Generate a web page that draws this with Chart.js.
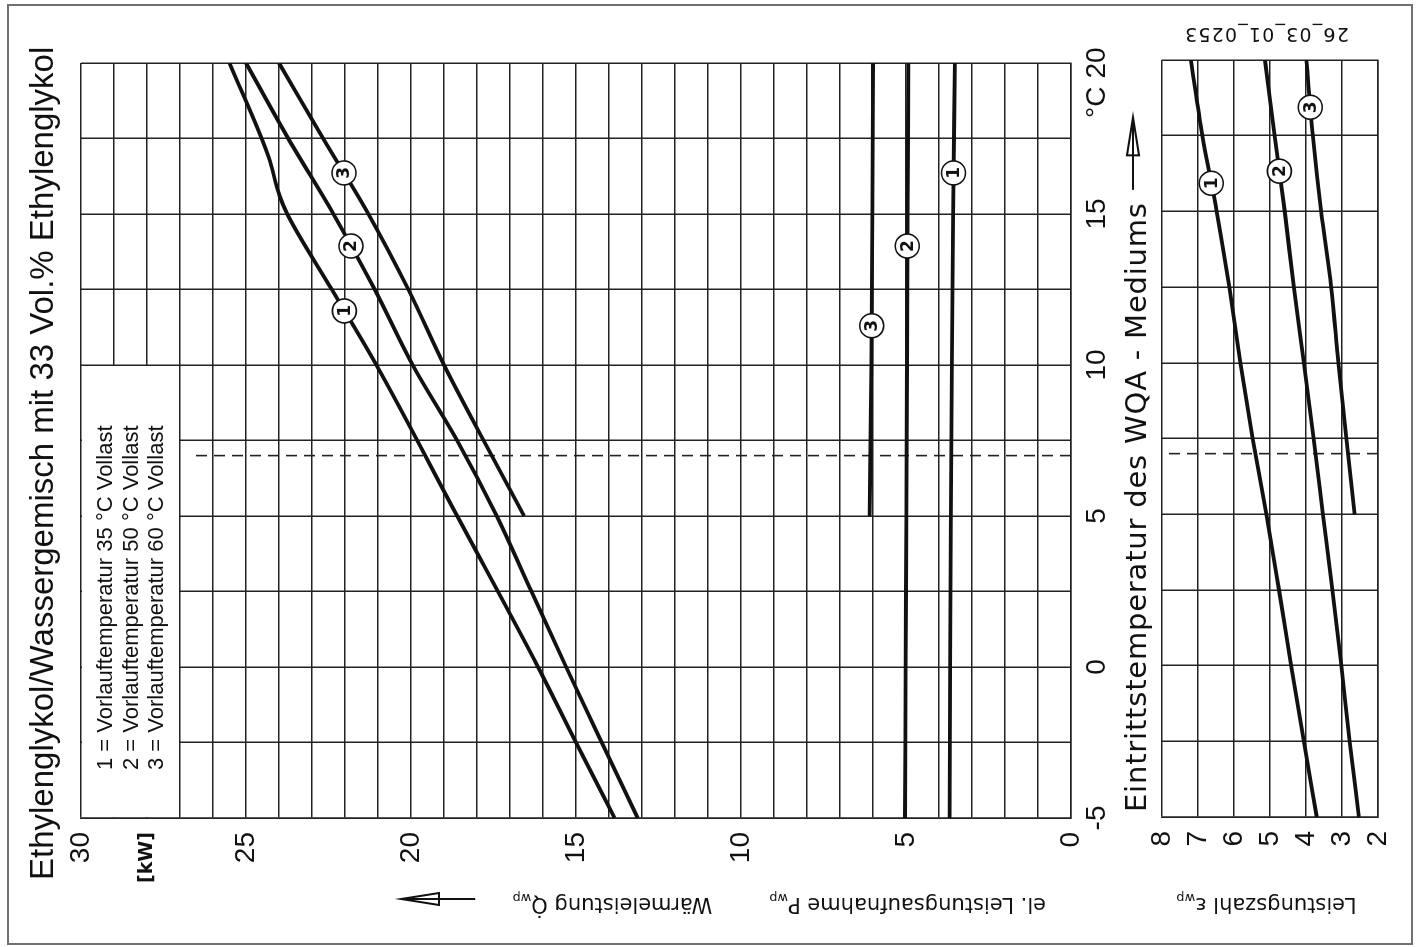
<!DOCTYPE html>
<html><head><meta charset="utf-8">
<script src="https://cdn.jsdelivr.net/npm/chart.js@4.4.0/dist/chart.umd.min.js"></script>
<style>
html,body{margin:0;padding:0;background:#fff;width:1419px;height:947px;overflow:hidden;}
#frame{position:absolute;left:7px;top:4px;width:1402px;height:937px;border:2px solid #707070;}
#rot{position:absolute;left:0;top:0;width:947px;height:1419px;transform-origin:0 0;transform:translateY(947px) rotate(-90deg);}
#cA{position:absolute;left:0;top:0;}
#cB{position:absolute;left:0;top:1120px;}
</style></head>
<body>
<div id="frame"></div>
<div id="rot">
<canvas id="cA" width="947" height="1160"></canvas>
<canvas id="cB" width="947" height="299"></canvas>
</div>
<script>
// ---------------- data ----------------
const chartTitle = 'Ethylenglykol/Wassergemisch mit 33 Vol.% Ethylenglykol';
const xTitle = 'Eintrittstemperatur des WQA - Mediums';
const legendLines = ['1 = Vorlauftemperatur 35 °C Vollast', '2 = Vorlauftemperatur 50 °C Vollast', '3 = Vorlauftemperatur 60 °C Vollast'];
const docCode = '26_03_01_0253';

// heating capacity [kW]
const heat1T = [-5, -2.5, 0, 5, 10, 12.5, 15, 15.6, 16.9, 20];
const heat1  = [13.83, 15.0, 16.15, 18.6, 21.05, 22.4, 23.75, 23.98, 24.32, 25.5];
const heat2T = [-5, -2.5, 0, 2.5, 5, 7.5, 10, 12.5, 15, 17.5, 20];
const heat2  = [13.13, 14.22, 15.3, 16.35, 17.4, 18.6, 19.95, 21.1, 22.35, 23.72, 25.0];
const heat3T = [5, 7.5, 10, 12.5, 15, 17.5, 20];
const heat3  = [16.57, 17.8, 19.0, 20.08, 21.29, 22.66, 24.0];
// electrical power input [kW]
const pow1T = [-5, 0, 5, 10, 15, 20];
const pow1  = [3.68, 3.66, 3.64, 3.61, 3.57, 3.52];
const pow2T = [-5, 0, 5, 10, 15, 20];
const pow2  = [5.03, 5.01, 4.99, 4.97, 4.95, 4.93];
const pow3T = [5, 10, 15, 20];
const pow3  = [6.1, 6.05, 6.02, 6.0];
// COP
const cop1T = [-5, -2.5, 0, 2.5, 5, 7.5, 10, 12.5, 15, 17.5, 20];
const cop1  = [3.7, 4.06, 4.41, 4.75, 5.1, 5.48, 5.82, 6.13, 6.48, 6.88, 7.2];
const cop2T = [-5, -2.5, 0, 2.5, 5, 7.5, 10, 12.5, 15, 17.5, 20];
const cop2  = [2.53, 2.79, 3.02, 3.27, 3.53, 3.79, 4.06, 4.34, 4.59, 4.87, 5.14];
const cop3T = [5, 7.5, 10, 12.5, 15, 17.5, 20];
const cop3  = [2.65, 2.88, 3.1, 3.3, 3.58, 3.81, 3.99];
// circled curve numbers
const markMainT = [16.36, 13.94, 11.79, 11.3, 13.94, 16.36];
const markMainV = [22.03, 21.82, 22.02, 6.04, 4.96, 3.56];
const markMainL = ['3', '2', '1', '3', '2', '1'];
const markCopT = [15.93, 16.33, 18.44];
const markCopV = [6.63, 4.74, 3.88];
const markCopL = ['1', '2', '3'];
// reference temperature (dashed) and legend area
const refTemp = 7;
const refKwTop = 26.6;
const legendBoxT = [-5, 10];
const legendBoxKw = [27, 30];
const kwUnitTick = 28;

// ---------------- helpers ----------------
const F_TICK = '"Liberation Sans", Arial, sans-serif';
const F_DIN = '"DejaVu Sans", sans-serif';
const INK = '#111';
const GRID = '#222';

function xy(ts, vs) { return ts.map((t, i) => ({x: t, y: vs[i]})); }

function rotText(ctx, parts, cx, cy, align, spacing) {
  ctx.save(); ctx.translate(cx, cy); ctx.rotate(-Math.PI / 2);
  if (spacing) ctx.letterSpacing = spacing + 'px';
  let total = 0;
  parts.forEach(p => { ctx.font = p.font; p.w = ctx.measureText(p.t).width; total += p.w; });
  let x = align === 'center' ? -total / 2 : 0;
  ctx.textBaseline = 'alphabetic'; ctx.textAlign = 'left'; ctx.fillStyle = INK;
  parts.forEach(p => { ctx.font = p.font; ctx.fillText(p.t, x, p.dy || 0); x += p.w; });
  ctx.restore();
}

function drawArrow(ctx, x1, y1, x2, y2) {
  const ang = Math.atan2(y2 - y1, x2 - x1);
  const len = Math.hypot(x2 - x1, y2 - y1);
  ctx.save(); ctx.translate(x2, y2); ctx.rotate(ang);
  ctx.strokeStyle = INK; ctx.lineWidth = 2;
  ctx.beginPath(); ctx.moveTo(-len, 0); ctx.lineTo(0, 0); ctx.stroke();
  ctx.beginPath(); ctx.moveTo(0, 0); ctx.lineTo(-38, -6); ctx.lineTo(-38, 6); ctx.closePath(); ctx.stroke();
  ctx.restore();
}

const markLabels = {
  id: 'markLabels',
  afterDatasetsDraw(chart) {
    const ctx = chart.ctx;
    chart.data.datasets.forEach((ds, i) => {
      if (!ds.marks) return;
      const meta = chart.getDatasetMeta(i);
      ctx.save();
      ctx.font = 'bold 17px ' + F_DIN; ctx.fillStyle = INK;
      ctx.textAlign = 'center'; ctx.textBaseline = 'middle';
      meta.data.forEach((el, j) => ctx.fillText(ds.marks[j], el.x, el.y + 1));
      ctx.restore();
    });
  }
};

const lineStyle = {borderColor: INK, borderWidth: 3.8, pointRadius: 0, fill: false, cubicInterpolationMode: 'monotone', order: 1};
const markStyle = {showLine: false, pointRadius: 12, pointBackgroundColor: '#fff', pointBorderColor: INK, pointBorderWidth: 1.6, order: 0};
const dashStyle = {borderColor: GRID, borderWidth: 1.6, borderDash: [11, 7], pointRadius: 0, fill: false, order: 2};

function gridOpts() { return {color: GRID, lineWidth: 1.5, drawTicks: false}; }
function borderOpts() { return {color: GRID, width: 1.5}; }

// ---------------- main chart ----------------
const annoA = {
  id: 'annoA',
  beforeDatasetsDraw(chart) {
    const ctx = chart.ctx, xs = chart.scales.x, ys = chart.scales.y, ca = chart.chartArea;
    const l = xs.getPixelForValue(legendBoxT[0]) + 1, r = xs.getPixelForValue(legendBoxT[1]) - 1;
    const t = ys.getPixelForValue(legendBoxKw[1]) + 1, b = ys.getPixelForValue(legendBoxKw[0]) - 1;
    ctx.save();
    ctx.fillStyle = '#fff'; ctx.fillRect(l, t, r - l, b - t);
    ctx.fillStyle = INK; ctx.font = '22px ' + F_TICK; ctx.textAlign = 'left'; ctx.textBaseline = 'alphabetic';
    legendLines.forEach((s, i) => ctx.fillText(s, ca.left + 48, ca.top + 31 + i * 25.5));
    ctx.restore();
  },
  afterDraw(chart) {
    const ctx = chart.ctx, xs = chart.scales.x, ys = chart.scales.y, ca = chart.chartArea;
    ctx.save();
    ctx.fillStyle = INK;
    // main title
    ctx.font = '33px ' + F_TICK; ctx.textAlign = 'left'; ctx.textBaseline = 'alphabetic';
    ctx.fillText(chartTitle, 67, 53);
    // x axis title + arrow
    ctx.save();
    ctx.font = '29px ' + F_DIN; ctx.letterSpacing = '0.8px';
    ctx.fillText(xTitle, ca.left + 6, 1146);
    ctx.restore();
    drawArrow(ctx, xs.getPixelForValue(15.8), 1133, xs.getPixelForValue(18.2), 1133);
    // unit °C
    ctx.font = '28px ' + F_TICK; ctx.textAlign = 'center'; ctx.textBaseline = 'middle';
    ctx.fillText('°C', xs.getPixelForValue(18.7), xs.top + 9 + 16.8);
    // y titles
    const big = '21px ' + F_DIN, small = '13px ' + F_DIN;
    rotText(ctx, [{t: 'Wärmeleistung Q\u0307', font: big}, {t: 'wp', font: small, dy: 4}], 49, ys.getPixelForValue(13.9), 'center');
    rotText(ctx, [{t: 'el. Leistungsaufnahme P', font: big}, {t: 'wp', font: small, dy: 4}], 49, ys.getPixelForValue(4.95), 'center');
    drawArrow(ctx, 48, ys.getPixelForValue(18.05), 48, ys.getPixelForValue(20.3));
    ctx.restore();
  }
};

new Chart(document.getElementById('cA'), {
  type: 'line',
  data: {datasets: [
    Object.assign({data: xy(markMainT, markMainV), marks: markMainL}, markStyle),
    Object.assign({data: xy(heat1T, heat1)}, lineStyle),
    Object.assign({data: xy(heat2T, heat2)}, lineStyle),
    Object.assign({data: xy(heat3T, heat3)}, lineStyle),
    Object.assign({data: xy(pow1T, pow1)}, lineStyle),
    Object.assign({data: xy(pow2T, pow2)}, lineStyle),
    Object.assign({data: xy(pow3T, pow3)}, lineStyle),
    Object.assign({data: [{x: refTemp, y: 0}, {x: refTemp, y: refKwTop}]}, dashStyle)
  ]},
  options: {
    responsive: false, animation: false, events: [],
    layout: {padding: {top: 81, right: 63, left: 0, bottom: 0}},
    plugins: {legend: {display: false}, tooltip: {enabled: false}, title: {display: false}},
    scales: {
      x: {type: 'linear', min: -5, max: 20, afterFit(s) { s.height = 89; },
        grid: gridOpts(), border: borderOpts(),
        ticks: {stepSize: 2.5, autoSkip: false, maxRotation: 0, padding: 9, color: INK,
          font: {family: F_TICK, size: 28},
          callback: v => (v % 5 === 0 ? String(v) : '')}},
      y: {type: 'linear', min: 0, max: 30, afterFit(s) { s.width = 129; },
        grid: gridOpts(), border: borderOpts(),
        ticks: {stepSize: 1, autoSkip: false, padding: 14, color: INK,
          font: c => (c.tick && c.tick.value === kwUnitTick) ? {family: F_DIN, size: 19, weight: 'bold'} : {family: F_TICK, size: 28},
          callback: v => (v % 5 === 0 ? String(v) : (v === kwUnitTick ? '[kW]' : ''))}}
    }
  },
  plugins: [annoA, markLabels]
});

// ---------------- COP chart ----------------
const annoB = {
  id: 'annoB',
  afterDraw(chart) {
    const ctx = chart.ctx, ys = chart.scales.y, ca = chart.chartArea;
    ctx.save();
    rotText(ctx, [{t: 'Leistungszahl ε', font: '21px ' + F_DIN}, {t: 'wp', font: '13px ' + F_DIN, dy: 4}], 49, ys.getPixelForValue(5.1), 'center');
    rotText(ctx, [{t: docCode, font: '19px ' + F_DIN}], ca.right + 32, ys.getPixelForValue(5.1), 'center', 1.2);
    ctx.restore();
  }
};

new Chart(document.getElementById('cB'), {
  type: 'line',
  data: {datasets: [
    Object.assign({data: xy(markCopT, markCopV), marks: markCopL}, markStyle),
    Object.assign({data: xy(cop1T, cop1)}, lineStyle),
    Object.assign({data: xy(cop2T, cop2)}, lineStyle),
    Object.assign({data: xy(cop3T, cop3)}, lineStyle),
    Object.assign({data: [{x: refTemp, y: 2}, {x: refTemp, y: 8}]}, dashStyle)
  ]},
  options: {
    responsive: false, animation: false, events: [],
    layout: {padding: {top: 42, right: 60, left: 0, bottom: 0}},
    plugins: {legend: {display: false}, tooltip: {enabled: false}, title: {display: false}},
    scales: {
      x: {type: 'linear', min: -5, max: 20, afterFit(s) { s.height = 41; },
        grid: gridOpts(), border: borderOpts(),
        ticks: {stepSize: 2.5, autoSkip: false, display: false}},
      y: {type: 'linear', min: 2, max: 8, afterFit(s) { s.width = 130; },
        grid: gridOpts(), border: borderOpts(),
        ticks: {stepSize: 1, autoSkip: false, padding: 14, color: INK,
          font: {family: F_TICK, size: 28}, callback: v => String(v)}}
    }
  },
  plugins: [annoB, markLabels]
});
</script>
</body></html>
